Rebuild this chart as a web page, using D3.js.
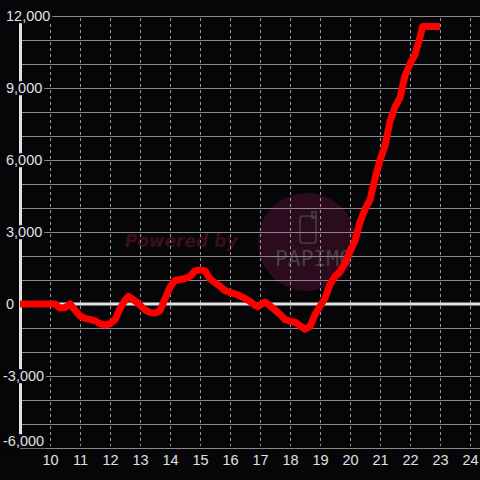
<!DOCTYPE html>
<html>
<head>
<meta charset="utf-8">
<script src="https://cdn.jsdelivr.net/npm/d3@7"></script>
<style>
  html, body { margin: 0; padding: 0; background: #060609; }
  svg { display: block; }
</style>
</head>
<body>
<div id="chart"></div>
<script>
// hour of day (decimal) and value
const hours = [
  9.0, 10.0, 10.17, 10.33, 10.5, 10.67, 10.83, 11.0, 11.17, 11.33, 11.5, 11.67, 11.83,
  12.0, 12.17, 12.33, 12.5, 12.62, 12.83, 13.0, 13.17, 13.33, 13.5, 13.67, 13.83,
  14.0, 14.17, 14.33, 14.5, 14.67, 14.83, 15.0, 15.17, 15.33, 15.5, 15.67, 15.83,
  16.0, 16.17, 16.33, 16.5, 16.67, 16.83, 16.92, 17.17, 17.33, 17.5, 17.67, 17.83,
  18.0, 18.17, 18.33, 18.5, 18.67, 18.83, 19.0, 19.17, 19.33, 19.5, 19.67, 19.83,
  20.0, 20.17, 20.33, 20.5, 20.67, 20.83, 21.0, 21.17, 21.33, 21.5, 21.67, 21.83,
  22.0, 22.17, 22.33, 22.42, 23.0
];
const values = [
  0, 0, 0, -170, -150, 0, -250, -500, -600, -640, -700, -820, -880,
  -820, -650, -200, 150, 320, 130, -50, -250, -350, -380, -280, 200,
  700, 980, 1020, 1060, 1150, 1380, 1420, 1380, 1050, 880, 740, 560,
  480, 420, 340, 230, 100, -50, -110, 80, -70, -250, -430, -640,
  -720, -760, -900, -1050, -930, -450, -100, 250, 800, 1150, 1350, 1700,
  2200, 2650, 3400, 3950, 4350, 5200, 6000, 6600, 7600, 8200, 8600, 9500,
  10000, 10400, 11100, 11560, 11560
];
const xTicks = [10, 11, 12, 13, 14, 15, 16, 17, 18, 19, 20, 21, 22, 23, 24];
const yGrid = d3.range(-6000, 12001, 1000);
const yLabels = [-6000, -3000, 0, 3000, 6000, 9000, 12000];

const width = 480, height = 480;
const bg = '#060609';

const x = d3.scaleLinear().domain([9, 24]).range([20, 470]);
const y = d3.scaleLinear().domain([-6000, 12000]).range([448, 16]);

const svg = d3.select('#chart')
  .append('svg')
  .attr('width', width)
  .attr('height', height)
  .style('font-family', '"Liberation Sans", Arial, sans-serif');

svg.append('rect').attr('width', width).attr('height', height).attr('fill', bg);

// Watermark
const wm = svg.append('g');
wm.append('circle').attr('cx', 307).attr('cy', 242).attr('r', 49).attr('fill', '#2c0b1e');
wm.append('text')
  .attr('x', 181).attr('y', 247)
  .attr('text-anchor', 'middle')
  .style('font-family', '"DejaVu Sans", Verdana, sans-serif')
  .style('font-weight', 'bold')
  .style('font-style', 'italic')
  .style('font-size', '17px')
  .attr('fill', '#3c0d1f')
  .text('Powered by');
wm.append('rect')
  .attr('x', 300).attr('y', 216).attr('width', 16).attr('height', 27).attr('rx', 3)
  .attr('fill', 'none').attr('stroke', '#454045').attr('stroke-width', 1.6);
wm.append('rect')
  .attr('x', 312).attr('y', 212).attr('width', 4).attr('height', 6)
  .attr('fill', 'none').attr('stroke', '#454045').attr('stroke-width', 1.6);
wm.append('text')
  .attr('x', 275).attr('y', 266)
  .attr('textLength', 77).attr('lengthAdjust', 'spacingAndGlyphs')
  .style('font-family', '"DejaVu Sans Mono", monospace')
  .style('font-size', '22px')
  .attr('fill', '#444044')
  .text('PAPIMO');

// Horizontal grid
svg.append('g')
  .selectAll('line')
  .data(yGrid)
  .enter()
  .append('line')
  .attr('x1', x(9)).attr('x2', width)
  .attr('y1', d => y(d)).attr('y2', d => y(d))
  .style('stroke', '#8a8a8a')
  .style('stroke-width', 1)
  .attr('shape-rendering', 'crispEdges');

// Vertical dashed grid
svg.append('g')
  .selectAll('line')
  .data(xTicks)
  .enter()
  .append('line')
  .attr('x1', d => x(d)).attr('x2', d => x(d))
  .attr('y1', y(12000) + 2).attr('y2', y(-6000) - 2)
  .style('stroke', '#9a9a9a')
  .style('stroke-width', 1)
  .style('stroke-dasharray', '3,3')
  .attr('shape-rendering', 'crispEdges');

// Zero line and y axis line
svg.append('line')
  .attr('x1', x(9)).attr('x2', width)
  .attr('y1', y(0)).attr('y2', y(0))
  .style('stroke', '#e2e2e2').style('stroke-width', 3);
svg.append('line')
  .attr('x1', x(9) + 0.5).attr('x2', x(9) + 0.5)
  .attr('y1', y(12000)).attr('y2', y(-6000))
  .style('stroke', '#e2e2e2').style('stroke-width', 3);

// Data line
const line = d3.line()
  .x((d, i) => x(hours[i]))
  .y(d => y(d))
  .curve(d3.curveLinear);

svg.append('path')
  .datum(values)
  .attr('d', line)
  .attr('fill', 'none')
  .style('stroke', '#ff0000')
  .style('stroke-width', 7)
  .style('stroke-linejoin', 'round');

// Y labels with background boxes
const fmt = d3.format(',');
const yl = svg.append('g')
  .selectAll('g')
  .data(yLabels)
  .enter()
  .append('g')
  .attr('transform', d => `translate(0,${d === -6000 ? y(d) - 7 : y(d)})`);
yl.append('text')
  .attr('x', d => d < 0 ? 3 : 6)
  .attr('dy', '0.36em')
  .style('font-size', '14.5px')
  .attr('fill', '#e0e0e0')
  .text(d => fmt(d).replace('−', '-'))
  .each(function () {
    const b = this.getBBox();
    d3.select(this.parentNode).insert('rect', 'text')
      .attr('x', 0).attr('y', b.y + 1)
      .attr('width', b.x + b.width + 2).attr('height', b.height - 2)
      .attr('fill', bg);
  });

// X axis labels
const xAxis = d3.axisBottom(x).tickValues(xTicks).tickSize(0).tickPadding(0);
const gx = svg.append('g')
  .attr('transform', 'translate(0,455)')
  .call(xAxis);
gx.select('.domain').remove();
gx.selectAll('text')
  .style('font-size', '14.5px')
  .style('font-family', '"Liberation Sans", Arial, sans-serif')
  .attr('fill', '#e0e0e0');
</script>
</body>
</html>
